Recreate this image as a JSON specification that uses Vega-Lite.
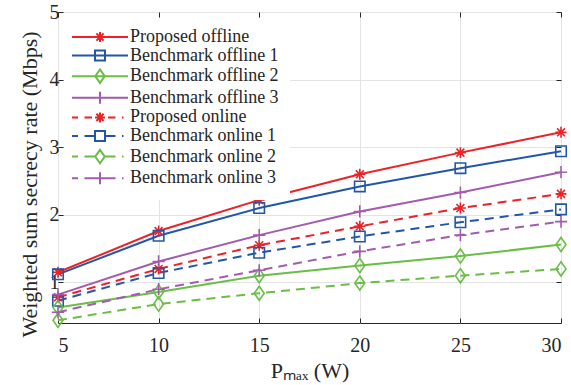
{
  "$schema": "https://vega.github.io/schema/vega-lite/v6.json",
  "width": 503,
  "height": 311,
  "autosize": "none",
  "padding": {"left": 58, "top": 12, "right": 10, "bottom": 62},
  "background": "white",
  "config": {
    "view": {"stroke": "#262626", "strokeWidth": 1},
    "font": "Liberation Serif",
    "axis": {
      "labelFont": "Liberation Serif",
      "titleFont": "Liberation Serif",
      "labelFontSize": 20,
      "titleFontSize": 22,
      "labelColor": "#262626",
      "titleColor": "#262626",
      "titleFontWeight": "normal",
      "domainColor": "#262626",
      "tickColor": "#262626",
      "gridColor": "#e3e3e3",
      "gridWidth": 1,
      "labelOverlap": false
    }
  },
  "data": {
    "values": [
      {"series": "Proposed offline", "m": "ast", "x": 5, "y": 1.15},
      {"series": "Proposed offline", "m": "ast", "x": 10, "y": 1.76},
      {"series": "Proposed offline", "m": "ast", "x": 15, "y": 2.22},
      {"series": "Proposed offline", "m": "ast", "x": 20, "y": 2.6},
      {"series": "Proposed offline", "m": "ast", "x": 25, "y": 2.92},
      {"series": "Proposed offline", "m": "ast", "x": 30, "y": 3.22},
      {"series": "Benchmark offline 1", "m": "sq", "x": 5, "y": 1.12},
      {"series": "Benchmark offline 1", "m": "sq", "x": 10, "y": 1.69},
      {"series": "Benchmark offline 1", "m": "sq", "x": 15, "y": 2.1},
      {"series": "Benchmark offline 1", "m": "sq", "x": 20, "y": 2.42},
      {"series": "Benchmark offline 1", "m": "sq", "x": 25, "y": 2.69},
      {"series": "Benchmark offline 1", "m": "sq", "x": 30, "y": 2.94},
      {"series": "Benchmark offline 2", "m": "dia", "x": 5, "y": 0.63},
      {"series": "Benchmark offline 2", "m": "dia", "x": 10, "y": 0.86},
      {"series": "Benchmark offline 2", "m": "dia", "x": 15, "y": 1.1},
      {"series": "Benchmark offline 2", "m": "dia", "x": 20, "y": 1.25},
      {"series": "Benchmark offline 2", "m": "dia", "x": 25, "y": 1.39},
      {"series": "Benchmark offline 2", "m": "dia", "x": 30, "y": 1.56},
      {"series": "Benchmark offline 3", "m": "plus", "x": 5, "y": 0.82},
      {"series": "Benchmark offline 3", "m": "plus", "x": 10, "y": 1.31},
      {"series": "Benchmark offline 3", "m": "plus", "x": 15, "y": 1.7},
      {"series": "Benchmark offline 3", "m": "plus", "x": 20, "y": 2.05},
      {"series": "Benchmark offline 3", "m": "plus", "x": 25, "y": 2.33},
      {"series": "Benchmark offline 3", "m": "plus", "x": 30, "y": 2.63},
      {"series": "Proposed online", "m": "ast", "x": 5, "y": 0.78},
      {"series": "Proposed online", "m": "ast", "x": 10, "y": 1.2},
      {"series": "Proposed online", "m": "ast", "x": 15, "y": 1.55},
      {"series": "Proposed online", "m": "ast", "x": 20, "y": 1.83},
      {"series": "Proposed online", "m": "ast", "x": 25, "y": 2.1},
      {"series": "Proposed online", "m": "ast", "x": 30, "y": 2.31},
      {"series": "Benchmark online 1", "m": "sq", "x": 5, "y": 0.73},
      {"series": "Benchmark online 1", "m": "sq", "x": 10, "y": 1.14},
      {"series": "Benchmark online 1", "m": "sq", "x": 15, "y": 1.44},
      {"series": "Benchmark online 1", "m": "sq", "x": 20, "y": 1.68},
      {"series": "Benchmark online 1", "m": "sq", "x": 25, "y": 1.89},
      {"series": "Benchmark online 1", "m": "sq", "x": 30, "y": 2.08},
      {"series": "Benchmark online 2", "m": "dia", "x": 5, "y": 0.44},
      {"series": "Benchmark online 2", "m": "dia", "x": 10, "y": 0.68},
      {"series": "Benchmark online 2", "m": "dia", "x": 15, "y": 0.84},
      {"series": "Benchmark online 2", "m": "dia", "x": 20, "y": 0.99},
      {"series": "Benchmark online 2", "m": "dia", "x": 25, "y": 1.1},
      {"series": "Benchmark online 2", "m": "dia", "x": 30, "y": 1.2},
      {"series": "Benchmark online 3", "m": "plus", "x": 5, "y": 0.56},
      {"series": "Benchmark online 3", "m": "plus", "x": 10, "y": 0.9},
      {"series": "Benchmark online 3", "m": "plus", "x": 15, "y": 1.18},
      {"series": "Benchmark online 3", "m": "plus", "x": 20, "y": 1.46},
      {"series": "Benchmark online 3", "m": "plus", "x": 25, "y": 1.7},
      {"series": "Benchmark online 3", "m": "plus", "x": 30, "y": 1.9}
    ]
  },
  "resolve": {"axis": {"x": "independent", "y": "independent"}},
  "layer": [
    {
      "transform": [{"filter": "indexof(datum.series, 'offline') >= 0"}],
      "mark": {"type": "line", "strokeWidth": 2},
      "encoding": {
        "x": {"field": "x", "type": "quantitative", "scale": {"domain": [5, 30], "nice": false, "zero": false},
              "axis": {"orient": "bottom", "values": [5, 10, 15, 20, 25, 30], "title": "Pₘₐₓ (W)", "grid": true, "tickSize": -5, "labelPadding": 17, "titlePadding": 5, "domain": false}},
        "y": {"field": "y", "type": "quantitative", "scale": {"domain": [0.4, 5], "nice": false, "zero": false},
              "axis": {"orient": "left", "values": [1, 2, 3, 4, 5], "title": "Weighted sum secrecy rate (Mbps)", "grid": true, "tickSize": -5, "labelPadding": 4, "titlePadding": 8, "titleY": 172, "domain": false}},
        "color": {"field": "series", "type": "nominal",
          "scale": {"domain": ["Proposed offline", "Benchmark offline 1", "Benchmark offline 2", "Benchmark offline 3", "Proposed online", "Benchmark online 1", "Benchmark online 2", "Benchmark online 3"],
                    "range": ["#EC2227", "#2257A8", "#6ABE45", "#A25BAE", "#EC2227", "#2257A8", "#6ABE45", "#A25BAE"]},
          "legend": {"orient": "top-left", "offset": 6, "title": null, "padding": 10,
                     "fillColor": "white", "strokeColor": "white", "cornerRadius": 0,
                     "labelFont": "Liberation Serif", "labelFontSize": 18, "labelColor": "#262626",
                     "symbolSize": 100, "symbolStrokeWidth": 2, "symbolOffset": 17, "labelOffset": 21,
                     "symbolOpacity": 1, "rowPadding": 0.6, "labelLimit": 300,
                     "encode": {"symbols": {"update": {"shape": {"signal": "['M-5.6,0H5.6M-1,0H1M0,-1V1M-0.72,-0.72L0.72,0.72M-0.72,0.72L0.72,-0.72', 'M-5.6,0H5.6M-1,-1H1V1H-1Z', 'M-5.6,0H5.6M0,-1.35L0.95,0L0,1.35L-0.95,0Z', 'M-5.6,0H5.6M-1,0H1M0,-1.2V1.2', 'M-5.6,0H-4.4M-3.1,0H-1.6M1.6,0H3.1M4.4,0H4.7M-1,0H1M0,-1V1M-0.72,-0.72L0.72,0.72M-0.72,0.72L0.72,-0.72', 'M-5.6,0H-4.4M-3.1,0H-1M1,0H3.1M4.4,0H4.7M-1,-1H1V1H-1Z', 'M-5.6,0H-4.4M-3.1,0H-0.95M0.95,0H3.1M4.4,0H4.7M0,-1.35L0.95,0L0,1.35L-0.95,0Z', 'M-5.6,0H-4.4M-3.1,0H-1M1,0H3.1M4.4,0H4.7M-1,0H1M0,-1.2V1.2'][datum.index]"}, "fill": {"value": "transparent"}, "opacity": {"value": 1}}}}}}
      }
    },
    {
      "transform": [{"filter": "indexof(datum.series, 'online') >= 0"}],
      "mark": {"type": "line", "strokeWidth": 2, "strokeDash": [9, 6]},
      "encoding": {
        "x": {"field": "x", "type": "quantitative", "axis": null},
        "y": {"field": "y", "type": "quantitative", "axis": null},
        "color": {"field": "series", "type": "nominal"}
      }
    },
    {
      "transform": [{"filter": "datum.m === 'ast'"}],
      "mark": {"type": "point", "filled": false, "strokeWidth": 1.6, "size": 120, "opacity": 1,
               "shape": "M-1,0H1M0,-1V1M-0.72,-0.72L0.72,0.72M-0.72,0.72L0.72,-0.72"},
      "encoding": {
        "x": {"field": "x", "type": "quantitative", "axis": {"orient": "top", "values": [5, 10, 15, 20, 25, 30], "labels": false, "title": null, "grid": false, "tickSize": -5, "domain": false}},
        "y": {"field": "y", "type": "quantitative", "axis": {"orient": "right", "values": [1, 2, 3, 4, 5], "labels": false, "title": null, "grid": false, "tickSize": -5, "domain": false}},
        "color": {"field": "series", "type": "nominal"}
      }
    },
    {
      "transform": [{"filter": "datum.m === 'sq'"}],
      "mark": {"type": "point", "filled": false, "strokeWidth": 1.6, "size": 110, "opacity": 1, "shape": "M-1,-1H1V1H-1Z"},
      "encoding": {
        "x": {"field": "x", "type": "quantitative", "axis": null},
        "y": {"field": "y", "type": "quantitative", "axis": null},
        "color": {"field": "series", "type": "nominal"}
      }
    },
    {
      "transform": [{"filter": "datum.m === 'dia'"}],
      "mark": {"type": "point", "filled": false, "strokeWidth": 1.6, "size": 110, "opacity": 1, "shape": "M0,-1.35L0.95,0L0,1.35L-0.95,0Z"},
      "encoding": {
        "x": {"field": "x", "type": "quantitative", "axis": null},
        "y": {"field": "y", "type": "quantitative", "axis": null},
        "color": {"field": "series", "type": "nominal"}
      }
    },
    {
      "transform": [{"filter": "datum.m === 'plus'"}],
      "mark": {"type": "point", "filled": false, "strokeWidth": 1.6, "size": 150, "opacity": 1, "shape": "M-1,0H1M0,-1V1"},
      "encoding": {
        "x": {"field": "x", "type": "quantitative", "axis": null},
        "y": {"field": "y", "type": "quantitative", "axis": null},
        "color": {"field": "series", "type": "nominal"}
      }
    }
  ]
}
